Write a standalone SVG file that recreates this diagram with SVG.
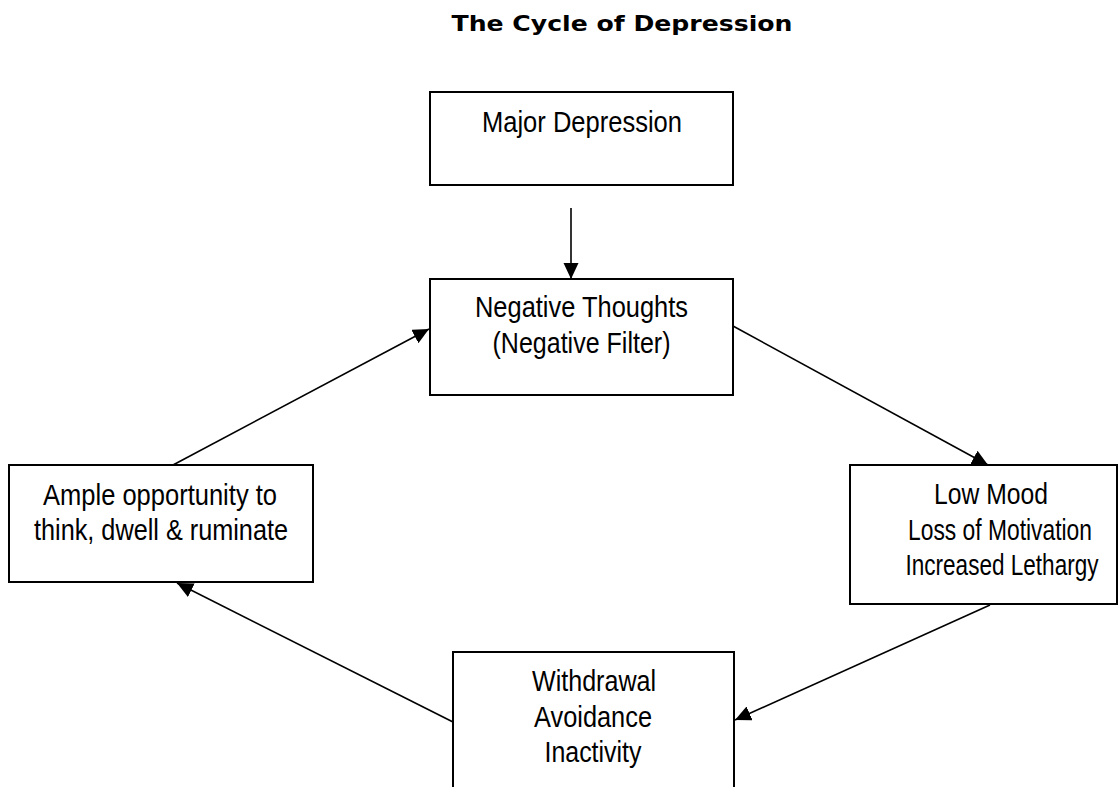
<svg xmlns="http://www.w3.org/2000/svg" width="1119" height="787" viewBox="0 0 1119 787">
  <style>
    .box { fill: #ffffff; stroke: #000000; stroke-width: 2; }
    .lbl { font-family: "Liberation Sans Narrow", "Liberation Sans", Arial, sans-serif; font-size: 30px; fill: #000000; text-anchor: middle; }
    .title { font-family: "DejaVu Sans", Verdana, sans-serif; font-weight: bold; font-size: 21px; fill: #000000; text-anchor: middle; }
    .conn { stroke: #000000; stroke-width: 1.6; fill: none; marker-end: url(#arrow); }
  </style>
  <defs>
    <marker id="arrow" markerUnits="userSpaceOnUse" markerWidth="17" markerHeight="16" refX="16" refY="7.5" orient="auto">
      <path d="M0,0 L16,7.5 L0,15 z" fill="#000000"/>
    </marker>
  </defs>

  <rect width="1119" height="787" fill="#ffffff"/>

  <text class="title" x="622" y="31" textLength="341" lengthAdjust="spacingAndGlyphs">The Cycle of Depression</text>

  <!-- arrows between the stages of the cycle -->
  <g id="connectors">
    <line class="conn" x1="571" y1="208" x2="571" y2="279"/>
    <line class="conn" x1="733" y1="326" x2="988" y2="465"/>
    <line class="conn" x1="990" y1="605" x2="735" y2="720"/>
    <line class="conn" x1="453" y1="722" x2="177" y2="583"/>
    <line class="conn" x1="173" y1="465" x2="429" y2="329"/>
  </g>

  <g id="major-depression">
    <rect class="box" x="430" y="92" width="303" height="93"/>
    <text class="lbl" x="582" y="132" textLength="200" lengthAdjust="spacingAndGlyphs">Major Depression</text>
  </g>

  <g id="negative-thoughts">
    <rect class="box" x="430" y="279" width="303" height="116"/>
    <text class="lbl" x="581.5" y="317" textLength="213" lengthAdjust="spacingAndGlyphs">Negative Thoughts</text>
    <text class="lbl" x="581.5" y="353" textLength="178" lengthAdjust="spacingAndGlyphs">(Negative Filter)</text>
  </g>

  <g id="low-mood">
    <rect class="box" x="850" y="465" width="267" height="139"/>
    <text class="lbl" x="991" y="504" textLength="114" lengthAdjust="spacingAndGlyphs">Low Mood</text>
    <text class="lbl" x="1000" y="540" textLength="184" lengthAdjust="spacingAndGlyphs">Loss of Motivation</text>
    <text class="lbl" x="1002" y="575" textLength="193" lengthAdjust="spacingAndGlyphs">Increased Lethargy</text>
  </g>

  <g id="withdrawal">
    <rect class="box" x="453" y="652" width="281" height="160"/>
    <text class="lbl" x="594" y="691" textLength="124" lengthAdjust="spacingAndGlyphs">Withdrawal</text>
    <text class="lbl" x="593" y="727" textLength="118" lengthAdjust="spacingAndGlyphs">Avoidance</text>
    <text class="lbl" x="593" y="762" textLength="97" lengthAdjust="spacingAndGlyphs">Inactivity</text>
  </g>

  <g id="ample-opportunity">
    <rect class="box" x="9" y="465" width="304" height="117"/>
    <text class="lbl" x="160" y="505" textLength="234" lengthAdjust="spacingAndGlyphs">Ample opportunity to</text>
    <text class="lbl" x="161" y="540" textLength="254" lengthAdjust="spacingAndGlyphs">think, dwell &amp; ruminate</text>
  </g>
</svg>
